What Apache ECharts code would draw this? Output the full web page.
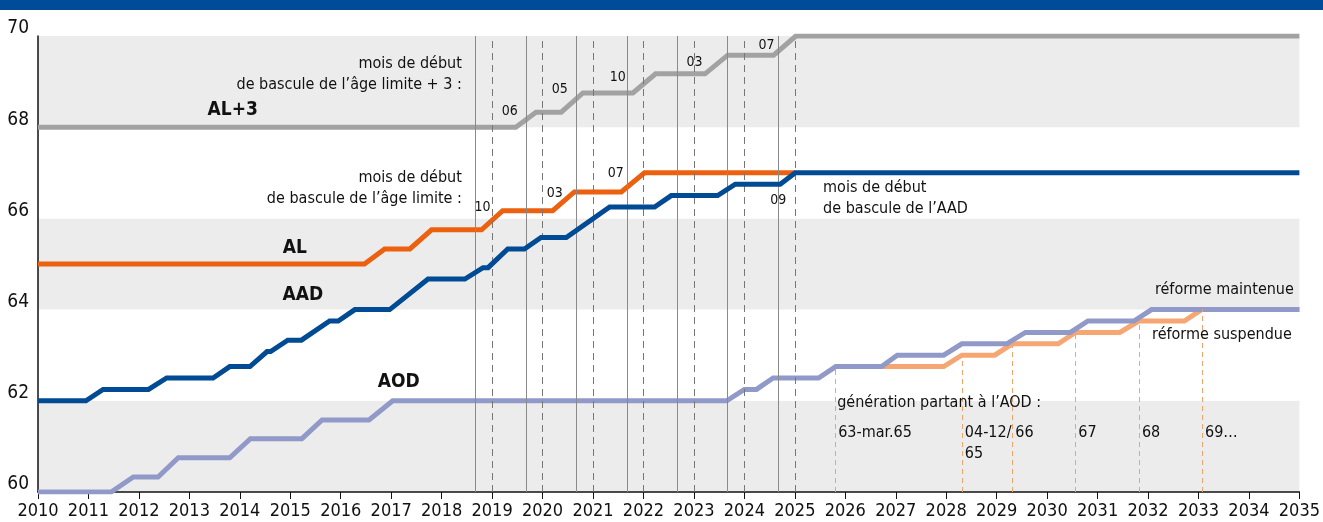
<!DOCTYPE html>
<html>
<head>
<meta charset="utf-8">
<script src="https://cdn.jsdelivr.net/npm/echarts@6/dist/echarts.min.js"></script>
<style>
  html, body { margin: 0; padding: 0; background: #fff; }
  #chart { width: 1323px; height: 522px; }
</style>
</head>
<body>
<div id="chart"></div>
<script>
// steps of each age (year, age)
const al3Years = [2010, 2019.47, 2019.87, 2020.37, 2020.8, 2021.79, 2022.24, 2023.22, 2023.67, 2024.58, 2025.02, 2035]
const al3Ages  = [68, 68, 68.33, 68.33, 68.75, 68.75, 69.17, 69.17, 69.58, 69.58, 70, 70]

const alYears = [2010, 2016.47, 2016.87, 2017.37, 2017.8, 2018.79, 2019.21, 2020.2, 2020.63, 2021.56, 2022.02, 2025]
const alAges  = [65, 65, 65.33, 65.33, 65.75, 65.75, 66.17, 66.17, 66.58, 66.58, 67, 67]

const aadYears = [2010, 2010.95, 2011.29, 2012.19, 2012.55, 2013.47, 2013.8, 2014.2, 2014.54, 2014.61, 2014.95, 2015.22,
  2015.78, 2015.95, 2016.28, 2016.97, 2017.73, 2018.46, 2018.82, 2018.92, 2019.31, 2019.64, 2019.97, 2020.47,
  2021.33, 2022.22, 2022.55, 2023.47, 2023.82, 2024.71, 2025.01, 2035]
const aadAges  = [62, 62, 62.25, 62.25, 62.5, 62.5, 62.75, 62.75, 63.08, 63.08, 63.33, 63.33,
  63.75, 63.75, 64, 64, 64.67, 64.67, 64.92, 64.92, 65.33, 65.33, 65.58, 65.58,
  66.25, 66.25, 66.5, 66.5, 66.75, 66.75, 67, 67]

const aodYears = [2010, 2011.45, 2011.89, 2012.38, 2012.78, 2013.8, 2014.21, 2015.23, 2015.63, 2016.56, 2017.03,
  2023.65, 2024.0, 2024.24, 2024.57, 2025.47, 2025.81, 2026.72, 2027.03, 2027.95, 2028.31, 2029.2, 2029.57,
  2030.46, 2030.81, 2031.72, 2032.07, 2035]
const aodAges  = [60, 60, 60.33, 60.33, 60.75, 60.75, 61.17, 61.17, 61.58, 61.58, 62,
  62, 62.25, 62.25, 62.5, 62.5, 62.75, 62.75, 63, 63, 63.25, 63.25, 63.5,
  63.5, 63.75, 63.75, 64, 64]

// AOD if the reform is suspended
const aodSuspYears = [2026.72, 2027.95, 2028.31, 2028.96, 2029.31, 2030.22, 2030.56, 2031.44, 2031.82, 2032.72, 2033.06, 2035]
const aodSuspAges  = [62.75, 62.75, 63, 63, 63.25, 63.25, 63.5, 63.5, 63.75, 63.75, 64, 64]

// vertical guides
const solidGuides = [2018.67, 2019.67, 2020.67, 2021.67, 2022.67, 2023.67, 2024.67]
const dashedGuides = [2019, 2020, 2021, 2022, 2023, 2024, 2025]

// generations reaching the AOD
const genYears  = [2025.8, 2028.31, 2029.31, 2030.56, 2031.82, 2033.07]
const genAges   = [62.75, 63, 63.25, 63.5, 63.75, 64]
const genLabels = ['63-mar.65', '04-12/\n65', '66', '67', '68', '69…']

const xTicks = { min: 2010, max: 2035, step: 1 }
const yTicks = { min: 60, max: 70, step: 2 }

// text notes: [text, year, age, align, kind]
const notes = [
  ['mois de début\nde bascule de l’âge limite + 3 :', 2018.40, 69.16, 'right', 'note'],
  ['AL+3', 2013.86, 68.37, 'center', 'bold'],
  ['06', 2019.35, 68.35, 'center', 'month'],
  ['05', 2020.34, 68.84, 'center', 'month'],
  ['10', 2021.49, 69.10, 'center', 'month'],
  ['03', 2023.01, 69.43, 'center', 'month'],
  ['07', 2024.44, 69.80, 'center', 'month'],
  ['mois de début\nde bascule de l’âge limite :', 2018.40, 66.66, 'right', 'note'],
  ['10', 2018.81, 66.24, 'center', 'month'],
  ['03', 2020.24, 66.55, 'center', 'month'],
  ['07', 2021.45, 66.99, 'center', 'month'],
  ['AL', 2015.09, 65.34, 'center', 'bold'],
  ['AAD', 2015.25, 64.31, 'center', 'bold'],
  ['09', 2024.67, 66.40, 'center', 'month'],
  ['mois de début\nde bascule de l’AAD', 2025.56, 66.44, 'left', 'note'],
  ['AOD', 2017.15, 62.40, 'center', 'bold'],
  ['génération partant à l’AOD :', 2025.84, 61.96, 'left', 'note'],
  ['réforme maintenue', 2034.89, 64.44, 'right', 'note'],
  ['réforme suspendue', 2034.85, 63.45, 'right', 'note']
]

const FONT = "'DejaVu Sans Condensed', 'Liberation Sans Narrow', sans-serif"
const zip = (xs, ys) => xs.map((x, i) => [x, ys[i]])

const noteStyles = {
  note: { fontSize: 16, fontWeight: 'normal', lineHeight: 21 },
  bold: { fontSize: 19, fontWeight: 'bold', lineHeight: 22 },
  month: { fontSize: 14, fontWeight: 'normal', lineHeight: 17 }
}

const stepLine = (name, data, color, z) => ({
  name,
  type: 'line',
  data,
  z,
  showSymbol: false,
  symbol: 'none',
  lineStyle: { color, width: 5, cap: 'butt', join: 'miter' },
  silent: true,
  animation: false
})

// invisible points that only carry a text
const textLayer = items => ({
  type: 'scatter',
  symbolSize: 0,
  z: 6,
  silent: true,
  itemStyle: { opacity: 1 },
  data: items
})

const chart = echarts.init(document.getElementById('chart'))
chart.setOption({
  animation: false,
  graphic: [
    { type: 'rect', left: 0, top: 0, shape: { width: 1323, height: 10 }, style: { fill: '#004c98' } }
  ],
  grid: { left: 38, right: 23, top: 36, bottom: 30 },
  xAxis: {
    type: 'value',
    min: xTicks.min,
    max: xTicks.max,
    interval: xTicks.step,
    axisLine: { lineStyle: { color: '#111', width: 1.5 } },
    axisTick: { show: true, length: 7, lineStyle: { color: '#111' } },
    axisLabel: {
      color: '#111', fontSize: 18, fontFamily: FONT, margin: 10,
      showMinLabel: true, showMaxLabel: true, hideOverlap: false,
      formatter: v => String(v)
    },
    splitLine: { show: false }
  },
  yAxis: {
    type: 'value',
    min: yTicks.min,
    max: yTicks.max,
    interval: yTicks.step,
    axisLine: { show: true, lineStyle: { color: '#111', width: 1.5 } },
    axisTick: { show: false },
    axisLabel: {
      color: '#111', fontSize: 19, fontFamily: FONT, margin: 9,
      verticalAlign: 'bottom', lineHeight: 15,
      formatter: v => String(v)
    },
    splitLine: { show: false },
    splitArea: { show: true, areaStyle: { color: ['#ececec', '#ffffff'] } }
  },
  series: [
    {
      type: 'line',
      data: [],
      z: 1,
      silent: true,
      markLine: {
        silent: true,
        symbol: 'none',
        label: { show: false },
        animation: false,
        data: [
          ...solidGuides.map(x => ({ xAxis: x, lineStyle: { color: '#8a8a8a', width: 1, type: 'solid' } })),
          ...dashedGuides.map(x => ({ xAxis: x, lineStyle: { color: '#777', width: 1, type: [7, 5] } })),
          ...genYears.map((x, i) => [
            { coord: [x, yTicks.min], lineStyle: { color: '#f3a26a', width: 1, type: [5, 4] } },
            { coord: [x, genAges[i]] }
          ])
        ]
      }
    },
    stepLine('AL+3', zip(al3Years, al3Ages), '#a2a2a2', 3),
    stepLine('AL', zip(alYears, alAges), '#eb6110', 4),
    stepLine('AAD', zip(aadYears, aadAges), '#004b93', 5),
    stepLine('AOD suspendue', zip(aodSuspYears, aodSuspAges), '#f5a673', 3),
    stepLine('AOD', zip(aodYears, aodAges), '#9199c9', 4),
    textLayer(genYears.map((x, i) => ({
      value: [x, 61.52],
      label: {
        show: true,
        formatter: genLabels[i],
        position: [3, 0],
        align: 'left',
        verticalAlign: 'top',
        fontSize: 16,
        lineHeight: 21,
        color: '#111',
        opacity: 1,
        fontFamily: FONT
      }
    }))),
    textLayer(notes.map(([text, x, y, align, kind]) => ({
      value: [x, y],
      label: {
        show: true,
        formatter: text,
        position: [0, 0],
        align,
        verticalAlign: 'middle',
        color: '#111',
        opacity: 1,
        fontFamily: FONT,
        ...noteStyles[kind]
      }
    })))
  ]
})
</script>
</body>
</html>
